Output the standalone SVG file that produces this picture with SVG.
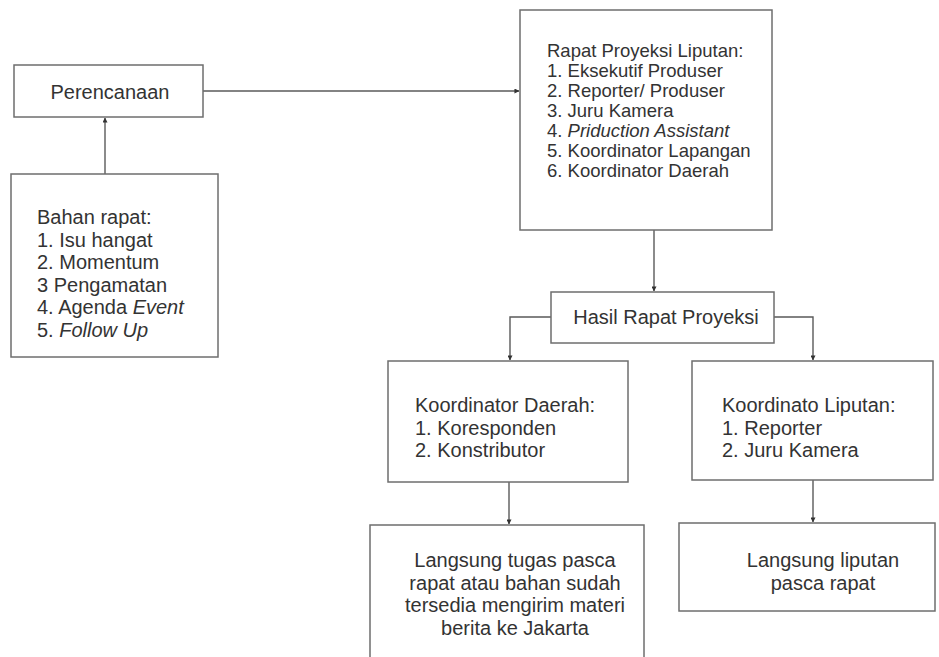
<svg xmlns="http://www.w3.org/2000/svg" width="939" height="657" viewBox="0 0 939 657">
  <defs>
    <marker id="tip" viewBox="0 0 6 6" refX="5.5" refY="3" markerWidth="5" markerHeight="5" markerUnits="userSpaceOnUse" orient="auto">
      <path d="M0,0 L6,3 L0,6 z" fill="#333"/>
    </marker>
    <style>
      .box { fill: #ffffff; stroke: #6e6e6e; stroke-width: 1.5; }
      .lbl { font-family: "Liberation Sans", Arial, sans-serif; font-size: 20px; fill: #333333; }
      .tight { font-size: 18.5px; }
      .mid { text-anchor: middle; }
      .it { font-style: italic; }
      .wire { fill: none; stroke: #5a5a5a; stroke-width: 1.4; marker-end: url(#tip); }
    </style>
  </defs>
  <rect width="939" height="657" fill="#ffffff"/>

  <g id="connectors">
    <path class="wire" d="M203,91 H519"/>
    <path class="wire" d="M105,174 V118"/>
    <path class="wire" d="M654,230 V291"/>
    <path class="wire" d="M551,317 H510 V360"/>
    <path class="wire" d="M774,317 H813 V360"/>
    <path class="wire" d="M509,482 V524"/>
    <path class="wire" d="M813,480 V522"/>
  </g>

  <g id="perencanaan">
    <rect class="box" x="14" y="65" width="189" height="52"/>
    <text class="lbl mid" x="110" y="99">Perencanaan</text>
  </g>

  <g id="bahan-rapat">
    <rect class="box" x="11" y="174" width="207" height="183"/>
    <text class="lbl" x="37" y="224">Bahan rapat:</text>
    <text class="lbl" x="37" y="246.5">1. Isu hangat</text>
    <text class="lbl" x="37" y="269">2. Momentum</text>
    <text class="lbl" x="37" y="291.5">3 Pengamatan</text>
    <text class="lbl" x="37" y="314">4. Agenda <tspan class="it">Event</tspan></text>
    <text class="lbl" x="37" y="336.5">5. <tspan class="it">Follow Up</tspan></text>
  </g>

  <g id="rapat-proyeksi">
    <rect class="box" x="520" y="10" width="252" height="220"/>
    <text class="lbl tight" x="547" y="57">Rapat Proyeksi Liputan:</text>
    <text class="lbl tight" x="547" y="77">1. Eksekutif Produser</text>
    <text class="lbl tight" x="547" y="97">2. Reporter/ Produser</text>
    <text class="lbl tight" x="547" y="117">3. Juru Kamera</text>
    <text class="lbl tight" x="547" y="137">4. <tspan class="it">Priduction Assistant</tspan></text>
    <text class="lbl tight" x="547" y="157">5. Koordinator Lapangan</text>
    <text class="lbl tight" x="547" y="177">6. Koordinator Daerah</text>
  </g>

  <g id="hasil-rapat">
    <rect class="box" x="551" y="292" width="223" height="51"/>
    <text class="lbl mid" x="666" y="324">Hasil Rapat Proyeksi</text>
  </g>

  <g id="koordinator-daerah">
    <rect class="box" x="388" y="361" width="240" height="121"/>
    <text class="lbl" x="415" y="412">Koordinator Daerah:</text>
    <text class="lbl" x="415" y="434.5">1. Koresponden</text>
    <text class="lbl" x="415" y="457">2. Konstributor</text>
  </g>

  <g id="koordinato-liputan">
    <rect class="box" x="692" y="361" width="241" height="119"/>
    <text class="lbl" x="722" y="412">Koordinato Liputan:</text>
    <text class="lbl" x="722" y="434.5">1. Reporter</text>
    <text class="lbl" x="722" y="457">2. Juru Kamera</text>
  </g>

  <g id="langsung-tugas">
    <rect class="box" x="370" y="525" width="274" height="140"/>
    <text class="lbl mid" x="515" y="567">Langsung tugas pasca</text>
    <text class="lbl mid" x="515" y="589.5">rapat atau bahan sudah</text>
    <text class="lbl mid" x="515" y="612">tersedia mengirim materi</text>
    <text class="lbl mid" x="515" y="634.5">berita ke Jakarta</text>
  </g>

  <g id="langsung-liputan">
    <rect class="box" x="679" y="523" width="256" height="88"/>
    <text class="lbl mid" x="823" y="567">Langsung liputan</text>
    <text class="lbl mid" x="823" y="589.5">pasca rapat</text>
  </g>
</svg>
